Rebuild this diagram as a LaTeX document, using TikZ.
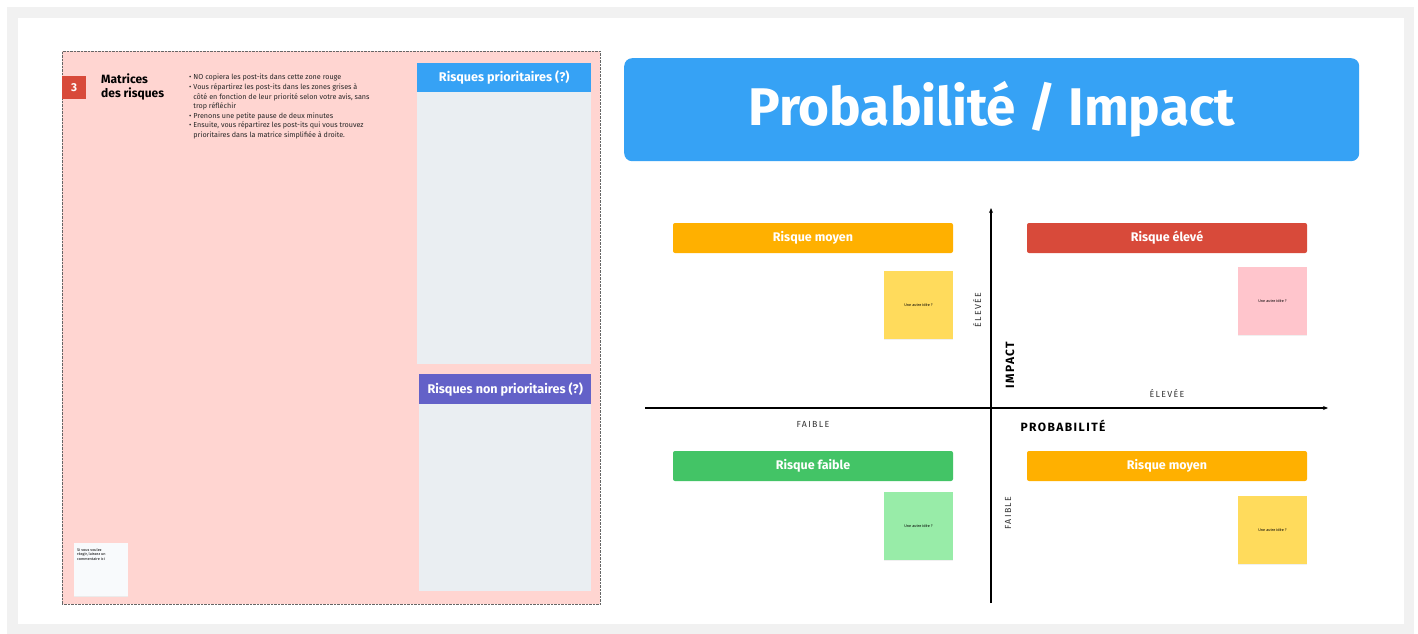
\documentclass[tikz,border=0pt]{standalone}
\usepackage{fontspec}
\setmainfont{Fira Sans}
\usetikzlibrary{positioning,arrows.meta}

\definecolor{framegray}{HTML}{F1F1F1}
\definecolor{boardpink}{HTML}{FFD5D1}
\definecolor{numred}{HTML}{D84A3A}
\definecolor{headblue}{HTML}{36A2F5}
\definecolor{headpurple}{HTML}{6361C8}
\definecolor{zonegray}{HTML}{EAEEF2}
\definecolor{noteoff}{HTML}{F8FAFC}
\definecolor{riskorange}{HTML}{FFB000}
\definecolor{riskgreen}{HTML}{43C466}
\definecolor{pityellow}{HTML}{FFDB5C}
\definecolor{pitpink}{HTML}{FFC5CC}
\definecolor{pitgreen}{HTML}{98ECA8}

\tikzset{
  bar/.style={rounded corners=2pt, minimum width=280pt, minimum height=30pt, inner sep=0pt,
    text=white, font=\fontsize{12.5}{14}\selectfont\bfseries},
  postit/.style={minimum width=69pt, minimum height=68pt, inner sep=0pt,
    font=\fontsize{3.8}{4}\selectfont},
  header/.style={minimum height=29pt, inner sep=0pt, anchor=north west,
    text=white, font=\fontsize{12.6}{14}\selectfont\bfseries},
  axislbl/.style={inner sep=0pt, text=black!80,
    font=\fontsize{8.8}{10}\selectfont\addfontfeatures{LetterSpace=15}},
  axistitle/.style={inner sep=0pt,
    font=\fontsize{12}{13}\selectfont\bfseries\addfontfeatures{LetterSpace=12}}
}

\begin{document}
\begin{tikzpicture}[x=1pt, y=-1pt]
  \useasboundingbox (0,0) rectangle (1418,634);
  % frame
  \fill[white] (0,0) rectangle (1418,634);
  \fill[framegray] (7,7) rectangle (1414,634);
  \fill[white] (18,18) rectangle (1404,624);

  % left board
  \node[draw=black!60, densely dotted, fill=boardpink, minimum width=538pt, minimum height=553pt,
        inner sep=0pt, anchor=north west] (board) at (62,51) {};
  \node[fill=numred, text=white, minimum width=24pt, minimum height=23pt, inner sep=0pt,
        anchor=north west, font=\fontsize{11.5}{12}\selectfont\bfseries] (num) at (62,76) {3};
  \node[anchor=north west, align=left, inner sep=0pt,
        font=\fontsize{12}{13.5}\selectfont\bfseries] (boardtitle) at (101,74) {Matrices\\des risques};
  \node[anchor=north west, align=left, inner sep=0pt, text=black!85,
        font=\fontsize{7.2}{9.6}\selectfont] (steps) at (189,74)
    {\textbullet\ NO copiera les post-its dans cette zone rouge\\
     \textbullet\ Vous répartirez les post-its dans les zones grises à\\
     \phantom{\textbullet\ }côté en fonction de leur priorité selon votre avis, sans\\
     \phantom{\textbullet\ }trop réfléchir\\
     \textbullet\ Prenons une petite pause de deux minutes\\
     \textbullet\ Ensuite, vous répartirez les post-its qui vous trouvez\\
     \phantom{\textbullet\ }prioritaires dans la matrice simplifiée à droite.};

  \node[header, fill=headblue, minimum width=174pt] (prio) at (417,63) {Risques prioritaires (?)};
  \fill[zonegray] (prio.south west) rectangle (591,364);
  \node[header, fill=headpurple, minimum width=172pt, minimum height=30pt] (nonprio) at (419,374)
    {Risques non prioritaires (?)};
  \fill[zonegray] (nonprio.south west) rectangle (591,591);

  \fill[black!8] (74,544) rectangle (128,597);
  \node[fill=noteoff, minimum width=54pt, minimum height=53pt, inner sep=0pt,
        anchor=north west] (comment) at (74,543) {};
  \node[anchor=north west, align=left, inner sep=0pt, font=\fontsize{3.8}{4.8}\selectfont]
    (commenttext) at (77,548) {Si vous voulez\\réagir, laissez un\\commentaire ici};

  % right: matrix
  \node[fill=headblue, rounded corners=8pt, minimum width=735pt, minimum height=103pt,
        anchor=north west, text=white, font=\fontsize{53}{60}\selectfont\bfseries] (title) at (624,58)
    {Probabilité / Impact};

  \coordinate (ytop) at (991,208);
  \coordinate (ybot) at (991,603);
  \coordinate (xleft) at (645,408);
  \coordinate (xright) at (1328,408);
  \draw[line width=1.1pt, -{Stealth[length=5pt,width=4pt]}] (ybot) -- (ytop);
  \draw[line width=1.1pt, -{Stealth[length=5pt,width=4pt]}] (xleft) -- (xright);

  \node[axislbl, rotate=90] (yhigh) at (977,310) {ÉLEVÉE};
  \node[axistitle, rotate=90] (impact) at (1010,365) {IMPACT};
  \node[axislbl] (xhigh) at (1167,393) {ÉLEVÉE};
  \node[axislbl] (xlow) at (813,424) {FAIBLE};
  \node[axistitle] (proba) at (1063,426) {PROBABILITÉ};
  \node[axislbl, rotate=90] (ylow) at (1008,513) {FAIBLE};

  \node[bar, fill=riskorange] (moyenA) at (813,238) {Risque moyen};
  \node[bar, fill=numred] (eleve) at (1167,238) {Risque élevé};
  \node[bar, fill=riskgreen] (faible) at (813,466) {Risque faible};
  \node[bar, fill=riskorange] (moyenB) at (1167,466) {Risque moyen};

  % post-its
  \foreach \px/\py/\pc/\pn in {918.5/305/pityellow/pitA, 1272.5/301/pitpink/pitB,
                               918.5/526/pitgreen/pitC, 1272.5/530/pityellow/pitD}{
    \fill[black!6] (\px-34.5,\py-33) rectangle (\px+34.5,\py+35);
    \node[postit, fill=\pc] (\pn) at (\px,\py) {Une autre idée ?};
  }
\end{tikzpicture}
\end{document}
